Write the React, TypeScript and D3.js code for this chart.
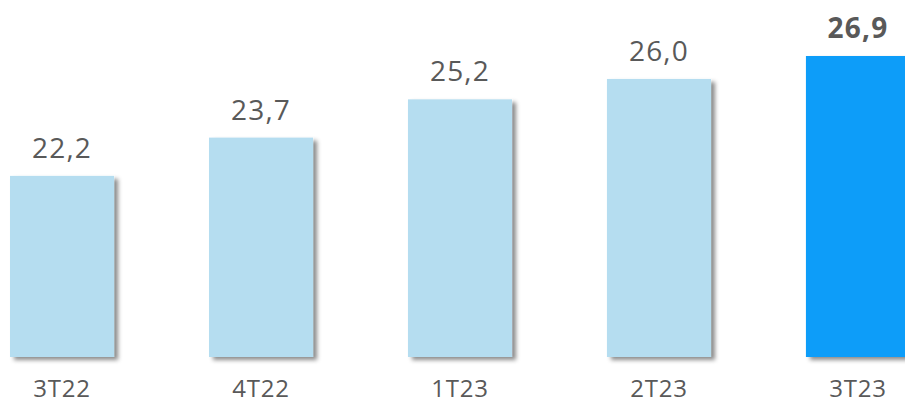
import React from "react";
import * as d3 from "d3";

const categories = ["3T22", "4T22", "1T23", "2T23", "3T23"];
const values = [22.2, 23.7, 25.2, 26.0, 26.9];
const labels = ["22,2", "23,7", "25,2", "26,0", "26,9"];
const highlight = [false, false, false, false, true];

export default function App() {
  const W = 905;
  const H = 403;
  const x = d3.scaleBand<string>().domain(categories).range([10, 910]).paddingInner(0.477).paddingOuter(0);
  const y = d3.scaleLinear().domain([15.1, 26.9]).range([357, 56]);
  const font = "'Open Sans', sans-serif";
  return (
    <svg width={W} height={H} style={{ position: "absolute", left: 0, top: 0, background: "#fff" }}>
      <defs>
        <filter id="sh" x="-20%" y="-20%" width="150%" height="150%">
          <feDropShadow dx={4} dy={3} stdDeviation={2.2} floodColor="#000" floodOpacity={0.45} />
        </filter>
      </defs>
      {categories.map((c, i) => {
        const bx = x(c)!;
        const bw = x.bandwidth();
        const top = y(values[i]);
        const cx = bx + bw / 2;
        return (
          <g key={c}>
            <rect x={bx} y={top} width={bw} height={y.range()[0] - top} fill={highlight[i] ? "#0B9DF9" : "#B5DDF0"} filter="url(#sh)" />
            <text x={cx} y={top - 18} textAnchor="middle" fontFamily={font} fontSize={28} fontWeight={highlight[i] ? 700 : 400} letterSpacing={1.2} fill="#595959">
              {labels[i]}
            </text>
            <text x={cx} y={397} textAnchor="middle" fontFamily={font} fontSize={24} letterSpacing={0.8} fill="#595959">
              {c}
            </text>
          </g>
        );
      })}
    </svg>
  );
}
